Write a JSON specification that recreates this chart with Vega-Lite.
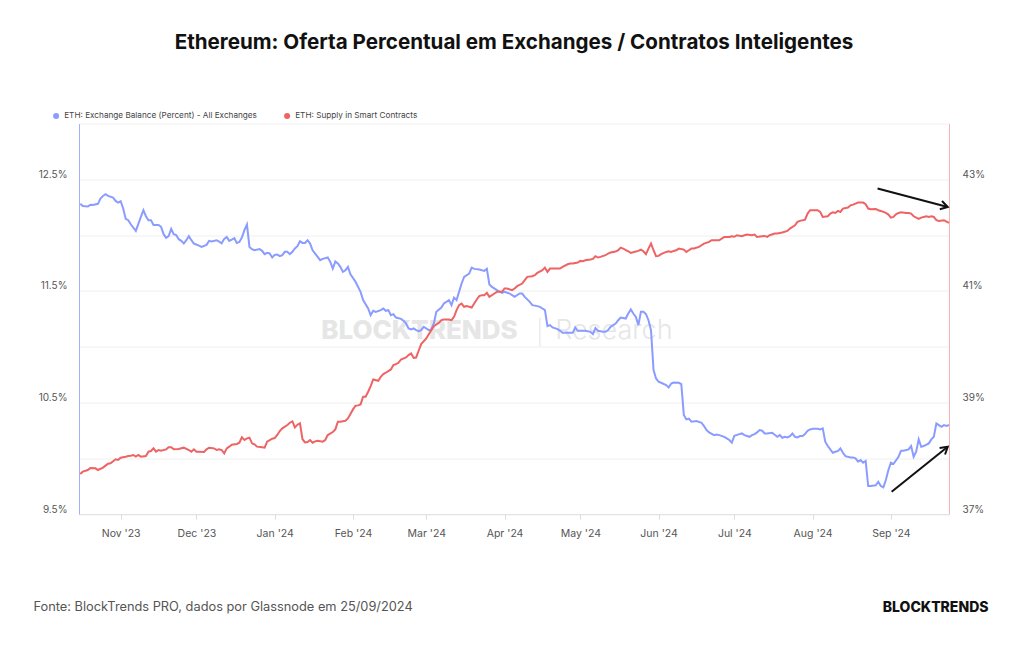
{
"$schema":"https://vega.github.io/schema/vega-lite/v6.json",
"width":870,"height":390.5,
"autosize":"none",
"padding":{"left":79,"top":123.5,"right":75,"bottom":131},
"background":"white",
"config":{"font":"Inter","view":{"stroke":null},"axis":{"labelFont":"Inter","titleFont":"Inter"},"legend":{"labelFont":"Inter"}},
"title":{"text":"Ethereum: Oferta Percentual em Exchanges / Contratos Inteligentes","font":"Inter","fontSize":20.6,"fontWeight":"bold","color":"#111111","anchor":"middle","baseline":"bottom","offset":38},
"datasets":{
"blue":[{"d":"2023-10-16","v":12.28},{"d":"2023-10-17","v":12.26},{"d":"2023-10-19","v":12.256},{"d":"2023-10-20","v":12.271},{"d":"2023-10-21","v":12.27},{"d":"2023-10-23","v":12.28},{"d":"2023-10-24","v":12.327},{"d":"2023-10-25","v":12.351},{"d":"2023-10-26","v":12.366},{"d":"2023-10-27","v":12.351},{"d":"2023-10-29","v":12.336},{"d":"2023-10-30","v":12.306},{"d":"2023-10-31","v":12.291},{"d":"2023-11-01","v":12.303},{"d":"2023-11-02","v":12.238},{"d":"2023-11-03","v":12.145},{"d":"2023-11-04","v":12.133},{"d":"2023-11-05","v":12.097},{"d":"2023-11-07","v":12.038},{"d":"2023-11-09","v":12.163},{"d":"2023-11-10","v":12.223},{"d":"2023-11-11","v":12.169},{"d":"2023-11-12","v":12.133},{"d":"2023-11-13","v":12.133},{"d":"2023-11-14","v":12.091},{"d":"2023-11-16","v":12.091},{"d":"2023-11-17","v":12.074},{"d":"2023-11-18","v":12.008},{"d":"2023-11-19","v":11.975},{"d":"2023-11-20","v":11.99},{"d":"2023-11-21","v":12.056},{"d":"2023-11-22","v":12.008},{"d":"2023-11-23","v":11.999},{"d":"2023-11-24","v":11.963},{"d":"2023-11-25","v":11.948},{"d":"2023-11-26","v":11.924},{"d":"2023-11-27","v":11.954},{"d":"2023-11-28","v":11.99},{"d":"2023-11-29","v":11.954},{"d":"2023-11-30","v":11.924},{"d":"2023-12-02","v":11.906},{"d":"2023-12-03","v":11.894},{"d":"2023-12-05","v":11.912},{"d":"2023-12-06","v":11.948},{"d":"2023-12-07","v":11.942},{"d":"2023-12-09","v":11.954},{"d":"2023-12-10","v":11.942},{"d":"2023-12-11","v":11.927},{"d":"2023-12-12","v":11.966},{"d":"2023-12-13","v":11.984},{"d":"2023-12-14","v":11.948},{"d":"2023-12-15","v":11.96},{"d":"2023-12-16","v":11.972},{"d":"2023-12-17","v":11.93},{"d":"2023-12-18","v":11.939},{"d":"2023-12-19","v":11.978},{"d":"2023-12-20","v":12.044},{"d":"2023-12-21","v":12.094},{"d":"2023-12-22","v":11.894},{"d":"2023-12-23","v":11.874},{"d":"2023-12-24","v":11.865},{"d":"2023-12-26","v":11.874},{"d":"2023-12-27","v":11.859},{"d":"2023-12-28","v":11.829},{"d":"2023-12-29","v":11.841},{"d":"2023-12-30","v":11.835},{"d":"2023-12-31","v":11.799},{"d":"2024-01-01","v":11.823},{"d":"2024-01-02","v":11.826},{"d":"2024-01-03","v":11.811},{"d":"2024-01-04","v":11.82},{"d":"2024-01-05","v":11.85},{"d":"2024-01-06","v":11.85},{"d":"2024-01-07","v":11.829},{"d":"2024-01-08","v":11.85},{"d":"2024-01-09","v":11.88},{"d":"2024-01-10","v":11.9},{"d":"2024-01-11","v":11.945},{"d":"2024-01-12","v":11.93},{"d":"2024-01-13","v":11.93},{"d":"2024-01-14","v":11.954},{"d":"2024-01-15","v":11.924},{"d":"2024-01-16","v":11.864},{"d":"2024-01-18","v":11.805},{"d":"2024-01-19","v":11.775},{"d":"2024-01-20","v":11.787},{"d":"2024-01-22","v":11.799},{"d":"2024-01-23","v":11.76},{"d":"2024-01-24","v":11.7},{"d":"2024-01-25","v":11.763},{"d":"2024-01-26","v":11.745},{"d":"2024-01-27","v":11.715},{"d":"2024-01-28","v":11.67},{"d":"2024-01-29","v":11.685},{"d":"2024-01-30","v":11.715},{"d":"2024-01-31","v":11.649},{"d":"2024-02-02","v":11.581},{"d":"2024-02-03","v":11.536},{"d":"2024-02-04","v":11.491},{"d":"2024-02-05","v":11.417},{"d":"2024-02-07","v":11.342},{"d":"2024-02-08","v":11.282},{"d":"2024-02-09","v":11.321},{"d":"2024-02-10","v":11.312},{"d":"2024-02-12","v":11.327},{"d":"2024-02-13","v":11.342},{"d":"2024-02-14","v":11.321},{"d":"2024-02-15","v":11.327},{"d":"2024-02-16","v":11.282},{"d":"2024-02-17","v":11.291},{"d":"2024-02-18","v":11.261},{"d":"2024-02-20","v":11.249},{"d":"2024-02-21","v":11.232},{"d":"2024-02-22","v":11.208},{"d":"2024-02-23","v":11.163},{"d":"2024-02-24","v":11.154},{"d":"2024-02-25","v":11.163},{"d":"2024-02-26","v":11.148},{"d":"2024-02-27","v":11.139},{"d":"2024-02-28","v":11.148},{"d":"2024-02-29","v":11.178},{"d":"2024-03-02","v":11.148},{"d":"2024-03-03","v":11.154},{"d":"2024-03-04","v":11.208},{"d":"2024-03-05","v":11.312},{"d":"2024-03-07","v":11.351},{"d":"2024-03-08","v":11.387},{"d":"2024-03-10","v":11.417},{"d":"2024-03-11","v":11.372},{"d":"2024-03-12","v":11.44},{"d":"2024-03-13","v":11.417},{"d":"2024-03-14","v":11.491},{"d":"2024-03-15","v":11.566},{"d":"2024-03-16","v":11.626},{"d":"2024-03-18","v":11.655},{"d":"2024-03-19","v":11.709},{"d":"2024-03-20","v":11.697},{"d":"2024-03-22","v":11.691},{"d":"2024-03-24","v":11.679},{"d":"2024-03-25","v":11.697},{"d":"2024-03-26","v":11.557},{"d":"2024-03-27","v":11.536},{"d":"2024-03-29","v":11.506},{"d":"2024-03-31","v":11.482},{"d":"2024-04-01","v":11.491},{"d":"2024-04-03","v":11.476},{"d":"2024-04-04","v":11.461},{"d":"2024-04-05","v":11.446},{"d":"2024-04-07","v":11.476},{"d":"2024-04-08","v":11.476},{"d":"2024-04-09","v":11.446},{"d":"2024-04-11","v":11.401},{"d":"2024-04-12","v":11.372},{"d":"2024-04-14","v":11.363},{"d":"2024-04-15","v":11.357},{"d":"2024-04-16","v":11.342},{"d":"2024-04-17","v":11.327},{"d":"2024-04-18","v":11.184},{"d":"2024-04-19","v":11.193},{"d":"2024-04-20","v":11.172},{"d":"2024-04-22","v":11.157},{"d":"2024-04-23","v":11.142},{"d":"2024-04-24","v":11.124},{"d":"2024-04-26","v":11.124},{"d":"2024-04-28","v":11.124},{"d":"2024-04-29","v":11.172},{"d":"2024-04-30","v":11.142},{"d":"2024-05-02","v":11.142},{"d":"2024-05-03","v":11.142},{"d":"2024-05-05","v":11.133},{"d":"2024-05-06","v":11.112},{"d":"2024-05-07","v":11.166},{"d":"2024-05-08","v":11.142},{"d":"2024-05-10","v":11.133},{"d":"2024-05-11","v":11.133},{"d":"2024-05-12","v":11.148},{"d":"2024-05-13","v":11.178},{"d":"2024-05-15","v":11.207},{"d":"2024-05-16","v":11.237},{"d":"2024-05-17","v":11.261},{"d":"2024-05-19","v":11.252},{"d":"2024-05-20","v":11.297},{"d":"2024-05-21","v":11.333},{"d":"2024-05-22","v":11.297},{"d":"2024-05-23","v":11.267},{"d":"2024-05-24","v":11.193},{"d":"2024-05-25","v":11.312},{"d":"2024-05-26","v":11.312},{"d":"2024-05-27","v":11.291},{"d":"2024-05-28","v":11.237},{"d":"2024-05-29","v":11.148},{"d":"2024-05-30","v":10.79},{"d":"2024-05-31","v":10.715},{"d":"2024-06-01","v":10.685},{"d":"2024-06-02","v":10.676},{"d":"2024-06-04","v":10.655},{"d":"2024-06-05","v":10.634},{"d":"2024-06-06","v":10.67},{"d":"2024-06-07","v":10.679},{"d":"2024-06-09","v":10.676},{"d":"2024-06-10","v":10.664},{"d":"2024-06-11","v":10.387},{"d":"2024-06-12","v":10.348},{"d":"2024-06-13","v":10.354},{"d":"2024-06-14","v":10.327},{"d":"2024-06-16","v":10.333},{"d":"2024-06-18","v":10.318},{"d":"2024-06-19","v":10.288},{"d":"2024-06-20","v":10.252},{"d":"2024-06-21","v":10.231},{"d":"2024-06-23","v":10.207},{"d":"2024-06-24","v":10.213},{"d":"2024-06-25","v":10.207},{"d":"2024-06-27","v":10.192},{"d":"2024-06-28","v":10.178},{"d":"2024-06-29","v":10.163},{"d":"2024-06-30","v":10.139},{"d":"2024-07-01","v":10.2},{"d":"2024-07-03","v":10.216},{"d":"2024-07-04","v":10.222},{"d":"2024-07-05","v":10.207},{"d":"2024-07-07","v":10.192},{"d":"2024-07-08","v":10.207},{"d":"2024-07-09","v":10.216},{"d":"2024-07-10","v":10.231},{"d":"2024-07-11","v":10.252},{"d":"2024-07-12","v":10.246},{"d":"2024-07-13","v":10.222},{"d":"2024-07-14","v":10.222},{"d":"2024-07-16","v":10.228},{"d":"2024-07-17","v":10.21},{"d":"2024-07-18","v":10.192},{"d":"2024-07-19","v":10.207},{"d":"2024-07-20","v":10.183},{"d":"2024-07-21","v":10.192},{"d":"2024-07-22","v":10.186},{"d":"2024-07-23","v":10.198},{"d":"2024-07-24","v":10.222},{"d":"2024-07-25","v":10.192},{"d":"2024-07-26","v":10.186},{"d":"2024-07-27","v":10.198},{"d":"2024-07-28","v":10.198},{"d":"2024-07-29","v":10.216},{"d":"2024-07-30","v":10.246},{"d":"2024-07-31","v":10.258},{"d":"2024-08-01","v":10.264},{"d":"2024-08-03","v":10.264},{"d":"2024-08-04","v":10.258},{"d":"2024-08-05","v":10.267},{"d":"2024-08-06","v":10.148},{"d":"2024-08-07","v":10.109},{"d":"2024-08-08","v":10.079},{"d":"2024-08-09","v":10.049},{"d":"2024-08-10","v":10.058},{"d":"2024-08-11","v":10.064},{"d":"2024-08-12","v":10.088},{"d":"2024-08-13","v":10.049},{"d":"2024-08-14","v":10.019},{"d":"2024-08-16","v":10.007},{"d":"2024-08-17","v":10.007},{"d":"2024-08-18","v":9.998},{"d":"2024-08-19","v":9.969},{"d":"2024-08-20","v":9.984},{"d":"2024-08-21","v":9.96},{"d":"2024-08-22","v":9.975},{"d":"2024-08-23","v":9.751},{"d":"2024-08-24","v":9.751},{"d":"2024-08-26","v":9.757},{"d":"2024-08-27","v":9.789},{"d":"2024-08-28","v":9.751},{"d":"2024-08-29","v":9.739},{"d":"2024-08-30","v":9.804},{"d":"2024-08-31","v":9.894},{"d":"2024-09-01","v":9.96},{"d":"2024-09-02","v":9.948},{"d":"2024-09-04","v":10.013},{"d":"2024-09-05","v":10.067},{"d":"2024-09-06","v":10.067},{"d":"2024-09-08","v":10.079},{"d":"2024-09-09","v":10.109},{"d":"2024-09-10","v":10.013},{"d":"2024-09-11","v":10.058},{"d":"2024-09-12","v":10.17},{"d":"2024-09-13","v":10.103},{"d":"2024-09-14","v":10.109},{"d":"2024-09-16","v":10.133},{"d":"2024-09-17","v":10.169},{"d":"2024-09-18","v":10.192},{"d":"2024-09-19","v":10.312},{"d":"2024-09-20","v":10.297},{"d":"2024-09-21","v":10.282},{"d":"2024-09-22","v":10.297},{"d":"2024-09-23","v":10.29},{"d":"2024-09-24","v":10.297}],
"red":[{"d":"2023-10-16","v":37.717},{"d":"2023-10-17","v":37.759},{"d":"2023-10-19","v":37.789},{"d":"2023-10-20","v":37.825},{"d":"2023-10-22","v":37.819},{"d":"2023-10-23","v":37.789},{"d":"2023-10-25","v":37.831},{"d":"2023-10-26","v":37.867},{"d":"2023-10-27","v":37.902},{"d":"2023-10-28","v":37.908},{"d":"2023-10-30","v":37.98},{"d":"2023-10-31","v":37.968},{"d":"2023-11-01","v":38.01},{"d":"2023-11-03","v":38.028},{"d":"2023-11-04","v":38.04},{"d":"2023-11-05","v":38.046},{"d":"2023-11-06","v":38.058},{"d":"2023-11-07","v":38.028},{"d":"2023-11-08","v":38.058},{"d":"2023-11-09","v":38.028},{"d":"2023-11-11","v":38.04},{"d":"2023-11-12","v":38.117},{"d":"2023-11-13","v":38.129},{"d":"2023-11-14","v":38.177},{"d":"2023-11-15","v":38.117},{"d":"2023-11-16","v":38.147},{"d":"2023-11-17","v":38.135},{"d":"2023-11-19","v":38.159},{"d":"2023-11-20","v":38.195},{"d":"2023-11-21","v":38.195},{"d":"2023-11-22","v":38.159},{"d":"2023-11-24","v":38.165},{"d":"2023-11-25","v":38.177},{"d":"2023-11-26","v":38.189},{"d":"2023-11-28","v":38.147},{"d":"2023-11-29","v":38.117},{"d":"2023-11-30","v":38.159},{"d":"2023-12-01","v":38.117},{"d":"2023-12-02","v":38.117},{"d":"2023-12-04","v":38.111},{"d":"2023-12-05","v":38.159},{"d":"2023-12-06","v":38.189},{"d":"2023-12-08","v":38.177},{"d":"2023-12-09","v":38.147},{"d":"2023-12-10","v":38.159},{"d":"2023-12-11","v":38.147},{"d":"2023-12-12","v":38.087},{"d":"2023-12-13","v":38.177},{"d":"2023-12-14","v":38.207},{"d":"2023-12-15","v":38.243},{"d":"2023-12-17","v":38.255},{"d":"2023-12-18","v":38.279},{"d":"2023-12-19","v":38.374},{"d":"2023-12-20","v":38.326},{"d":"2023-12-21","v":38.356},{"d":"2023-12-22","v":38.368},{"d":"2023-12-23","v":38.267},{"d":"2023-12-24","v":38.249},{"d":"2023-12-25","v":38.207},{"d":"2023-12-27","v":38.195},{"d":"2023-12-28","v":38.189},{"d":"2023-12-29","v":38.296},{"d":"2023-12-31","v":38.35},{"d":"2024-01-01","v":38.362},{"d":"2024-01-02","v":38.416},{"d":"2024-01-03","v":38.487},{"d":"2024-01-04","v":38.535},{"d":"2024-01-06","v":38.595},{"d":"2024-01-07","v":38.636},{"d":"2024-01-08","v":38.66},{"d":"2024-01-09","v":38.553},{"d":"2024-01-10","v":38.601},{"d":"2024-01-11","v":38.625},{"d":"2024-01-12","v":38.34},{"d":"2024-01-13","v":38.284},{"d":"2024-01-14","v":38.29},{"d":"2024-01-15","v":38.326},{"d":"2024-01-16","v":38.278},{"d":"2024-01-17","v":38.302},{"d":"2024-01-18","v":38.314},{"d":"2024-01-20","v":38.296},{"d":"2024-01-21","v":38.326},{"d":"2024-01-22","v":38.415},{"d":"2024-01-24","v":38.469},{"d":"2024-01-25","v":38.517},{"d":"2024-01-26","v":38.654},{"d":"2024-01-27","v":38.654},{"d":"2024-01-29","v":38.672},{"d":"2024-01-30","v":38.714},{"d":"2024-02-01","v":38.875},{"d":"2024-02-02","v":38.941},{"d":"2024-02-03","v":38.947},{"d":"2024-02-04","v":38.965},{"d":"2024-02-05","v":39.102},{"d":"2024-02-06","v":39.102},{"d":"2024-02-07","v":39.191},{"d":"2024-02-08","v":39.293},{"d":"2024-02-09","v":39.412},{"d":"2024-02-11","v":39.388},{"d":"2024-02-12","v":39.46},{"d":"2024-02-13","v":39.508},{"d":"2024-02-14","v":39.532},{"d":"2024-02-16","v":39.591},{"d":"2024-02-17","v":39.669},{"d":"2024-02-18","v":39.687},{"d":"2024-02-19","v":39.711},{"d":"2024-02-20","v":39.77},{"d":"2024-02-22","v":39.806},{"d":"2024-02-23","v":39.848},{"d":"2024-02-24","v":39.878},{"d":"2024-02-25","v":39.8},{"d":"2024-02-26","v":39.806},{"d":"2024-02-27","v":39.926},{"d":"2024-02-28","v":40.045},{"d":"2024-03-01","v":40.146},{"d":"2024-03-02","v":40.224},{"d":"2024-03-03","v":40.296},{"d":"2024-03-04","v":40.367},{"d":"2024-03-06","v":40.427},{"d":"2024-03-07","v":40.475},{"d":"2024-03-08","v":40.487},{"d":"2024-03-10","v":40.487},{"d":"2024-03-11","v":40.475},{"d":"2024-03-12","v":40.535},{"d":"2024-03-13","v":40.654},{"d":"2024-03-14","v":40.744},{"d":"2024-03-15","v":40.773},{"d":"2024-03-16","v":40.714},{"d":"2024-03-17","v":40.726},{"d":"2024-03-19","v":40.702},{"d":"2024-03-20","v":40.773},{"d":"2024-03-21","v":40.845},{"d":"2024-03-22","v":40.905},{"d":"2024-03-23","v":40.923},{"d":"2024-03-24","v":40.923},{"d":"2024-03-25","v":40.964},{"d":"2024-03-26","v":40.893},{"d":"2024-03-28","v":40.953},{"d":"2024-03-29","v":40.982},{"d":"2024-03-31","v":40.982},{"d":"2024-04-01","v":41.042},{"d":"2024-04-02","v":41.042},{"d":"2024-04-04","v":41.012},{"d":"2024-04-05","v":41.042},{"d":"2024-04-06","v":41.084},{"d":"2024-04-08","v":41.131},{"d":"2024-04-09","v":41.191},{"d":"2024-04-10","v":41.251},{"d":"2024-04-12","v":41.263},{"d":"2024-04-13","v":41.281},{"d":"2024-04-14","v":41.322},{"d":"2024-04-16","v":41.37},{"d":"2024-04-17","v":41.418},{"d":"2024-04-18","v":41.34},{"d":"2024-04-19","v":41.4},{"d":"2024-04-20","v":41.4},{"d":"2024-04-22","v":41.4},{"d":"2024-04-23","v":41.4},{"d":"2024-04-24","v":41.43},{"d":"2024-04-26","v":41.477},{"d":"2024-04-27","v":41.489},{"d":"2024-04-28","v":41.489},{"d":"2024-04-30","v":41.507},{"d":"2024-05-01","v":41.537},{"d":"2024-05-02","v":41.531},{"d":"2024-05-03","v":41.549},{"d":"2024-05-05","v":41.561},{"d":"2024-05-06","v":41.573},{"d":"2024-05-07","v":41.621},{"d":"2024-05-08","v":41.597},{"d":"2024-05-09","v":41.609},{"d":"2024-05-11","v":41.639},{"d":"2024-05-12","v":41.669},{"d":"2024-05-13","v":41.687},{"d":"2024-05-15","v":41.704},{"d":"2024-05-16","v":41.728},{"d":"2024-05-17","v":41.776},{"d":"2024-05-18","v":41.758},{"d":"2024-05-20","v":41.71},{"d":"2024-05-21","v":41.681},{"d":"2024-05-23","v":41.704},{"d":"2024-05-24","v":41.716},{"d":"2024-05-25","v":41.74},{"d":"2024-05-26","v":41.71},{"d":"2024-05-27","v":41.657},{"d":"2024-05-28","v":41.758},{"d":"2024-05-29","v":41.848},{"d":"2024-05-30","v":41.728},{"d":"2024-05-31","v":41.621},{"d":"2024-06-01","v":41.627},{"d":"2024-06-02","v":41.657},{"d":"2024-06-04","v":41.698},{"d":"2024-06-05","v":41.71},{"d":"2024-06-06","v":41.698},{"d":"2024-06-07","v":41.716},{"d":"2024-06-08","v":41.728},{"d":"2024-06-09","v":41.758},{"d":"2024-06-11","v":41.74},{"d":"2024-06-12","v":41.698},{"d":"2024-06-13","v":41.728},{"d":"2024-06-14","v":41.758},{"d":"2024-06-15","v":41.758},{"d":"2024-06-17","v":41.788},{"d":"2024-06-18","v":41.818},{"d":"2024-06-19","v":41.848},{"d":"2024-06-21","v":41.878},{"d":"2024-06-22","v":41.907},{"d":"2024-06-23","v":41.907},{"d":"2024-06-25","v":41.907},{"d":"2024-06-26","v":41.937},{"d":"2024-06-27","v":41.967},{"d":"2024-06-29","v":41.967},{"d":"2024-06-30","v":41.979},{"d":"2024-07-01","v":41.97},{"d":"2024-07-02","v":41.997},{"d":"2024-07-04","v":41.979},{"d":"2024-07-05","v":41.997},{"d":"2024-07-06","v":42.009},{"d":"2024-07-08","v":41.997},{"d":"2024-07-09","v":42.009},{"d":"2024-07-10","v":41.967},{"d":"2024-07-12","v":41.979},{"d":"2024-07-13","v":41.985},{"d":"2024-07-14","v":41.967},{"d":"2024-07-15","v":41.997},{"d":"2024-07-17","v":42.027},{"d":"2024-07-18","v":42.027},{"d":"2024-07-20","v":42.045},{"d":"2024-07-22","v":42.075},{"d":"2024-07-23","v":42.116},{"d":"2024-07-25","v":42.176},{"d":"2024-07-26","v":42.236},{"d":"2024-07-27","v":42.254},{"d":"2024-07-29","v":42.277},{"d":"2024-07-30","v":42.385},{"d":"2024-07-31","v":42.445},{"d":"2024-08-01","v":42.445},{"d":"2024-08-03","v":42.445},{"d":"2024-08-04","v":42.415},{"d":"2024-08-05","v":42.325},{"d":"2024-08-07","v":42.337},{"d":"2024-08-08","v":42.385},{"d":"2024-08-09","v":42.409},{"d":"2024-08-10","v":42.397},{"d":"2024-08-11","v":42.433},{"d":"2024-08-12","v":42.415},{"d":"2024-08-13","v":42.475},{"d":"2024-08-15","v":42.493},{"d":"2024-08-16","v":42.534},{"d":"2024-08-17","v":42.546},{"d":"2024-08-18","v":42.564},{"d":"2024-08-19","v":42.582},{"d":"2024-08-21","v":42.582},{"d":"2024-08-22","v":42.552},{"d":"2024-08-23","v":42.475},{"d":"2024-08-24","v":42.463},{"d":"2024-08-26","v":42.469},{"d":"2024-08-27","v":42.445},{"d":"2024-08-28","v":42.433},{"d":"2024-08-30","v":42.397},{"d":"2024-08-31","v":42.367},{"d":"2024-09-01","v":42.313},{"d":"2024-09-02","v":42.325},{"d":"2024-09-03","v":42.373},{"d":"2024-09-04","v":42.397},{"d":"2024-09-05","v":42.409},{"d":"2024-09-07","v":42.397},{"d":"2024-09-08","v":42.397},{"d":"2024-09-09","v":42.385},{"d":"2024-09-10","v":42.337},{"d":"2024-09-12","v":42.29},{"d":"2024-09-13","v":42.313},{"d":"2024-09-14","v":42.325},{"d":"2024-09-15","v":42.337},{"d":"2024-09-16","v":42.325},{"d":"2024-09-17","v":42.337},{"d":"2024-09-18","v":42.325},{"d":"2024-09-19","v":42.266},{"d":"2024-09-20","v":42.254},{"d":"2024-09-22","v":42.266},{"d":"2024-09-23","v":42.242},{"d":"2024-09-24","v":42.218}]
},
"encoding":{"x":{"field":"d","type":"temporal","scale":{"type":"utc","domain":[1697371200000,1727136000000],"nice":false},
  "axis":{"format":"%b '%y","tickCount":{"interval":"month","step":1},"grid":false,"domainColor":"#e3e3e3","tickColor":"#dddddd","tickSize":5,"labelColor":"#555555","labelFontSize":10.5,"labelPadding":9,"labelFlush":false,"labelOverlap":false,
  "title":"Fonte: BlockTrends PRO, dados por Glassnode em 25/09/2024","titleFontWeight":"normal","titleFontSize":12.8,"titleColor":"#555555","titleAnchor":"start","titleAlign":"left","titleX":-46,"titleY":92,"titleBaseline":"middle"}}},
"layer":[
 {"encoding":{"y":{"field":"v","type":"quantitative","scale":{"domain":[9.5,13],"nice":false,"zero":false},
   "axis":{"title":null,"values":[9.5,10,10.5,11,11.5,12,12.5,13],"labelExpr":"datum.value % 1 == 0.5 ? format(datum.value, '.1f') + '%' : ''","grid":true,"gridColor":"#efefef","ticks":false,"domainColor":"#a3afff","labelColor":"#555555","labelFontSize":10,"labelPadding":12,"labelBaseline":"alphabetic","labelOffset":-2}}},
  "layer":[
   {"data":{"values":[{"d":"2024-02-27T07:00:00Z","v":11.14,"t":"BLOCKTRENDS"}]},"mark":{"type":"text","fontSize":26,"fontWeight":800,"color":"#e6e6e6","align":"center","baseline":"middle"},"encoding":{"text":{"field":"t"}}},
   {"data":{"values":[{"d":"2024-05-14T07:00:00Z","v":11.14,"t":"Research"}]},"mark":{"type":"text","fontSize":27,"fontWeight":300,"color":"#e6e6e6","align":"center","baseline":"middle"},"encoding":{"text":{"field":"t"}}},
   {"data":{"values":[{"d":"2024-04-15T00:00:00Z","v":11.0,"v2":11.26}]},"mark":{"type":"rule","color":"#e2e2e2","strokeWidth":1},"encoding":{"y2":{"field":"v2"}}},
   {"data":{"name":"blue"},"mark":{"type":"line","strokeWidth":2},"encoding":{"color":{"datum":"ETH: Exchange Balance (Percent) - All Exchanges","type":"nominal","scale":{"domain":["ETH: Exchange Balance (Percent) - All Exchanges","ETH: Supply in Smart Contracts"],"range":["#8a9cff","#ee6363"]},
     "legend":{"orient":"none","legendX":-27,"legendY":-12,"direction":"horizontal","title":null,"symbolType":"circle","symbolSize":36,"symbolStrokeWidth":0,"labelFontSize":8.2,"labelColor":"#444444","labelOffset":4,"labelLimit":400,"columnPadding":26,"encode":{"symbols":{"update":{"fill":{"scale":"color","field":"value"},"fillOpacity":{"value":1}}}}}}}},
   {"data":{"values":[{"d":"2024-09-01T07:00:00Z","v":9.70,"d2":"2024-09-23T12:00:00Z","v2":10.103}]},"mark":{"type":"rule","color":"#111111","strokeWidth":2},"encoding":{"x2":{"field":"d2"},"y2":{"field":"v2"}}},
   {"data":{"values":[{"d":"2024-09-23T12:00:00Z","v":10.103}]},"mark":{"type":"point","shape":"M-1,-0.6L0,0L-1,0.6","size":200,"filled":false,"color":"#111111","strokeWidth":2,"angle":320,"opacity":1}}
  ]},
 {"encoding":{"y":{"field":"v","type":"quantitative","scale":{"domain":[37,44],"nice":false,"zero":false},
   "axis":{"orient":"right","values":[37,39,41,43],"labelExpr":"datum.value + '%'","grid":false,"ticks":false,"domainColor":"#f5b5b5","labelColor":"#555555","labelFontSize":10,"labelPadding":13,"labelBaseline":"alphabetic","labelOffset":-2,
   "title":"BLOCKTRENDS","titleAngle":0,"titleX":39,"titleY":483.5,"titleAlign":"right","titleBaseline":"middle","titleFontSize":14,"titleFontWeight":800,"titleColor":"#111111"}}},
  "layer":[
   {"data":{"name":"red"},"mark":{"type":"line","strokeWidth":2},"encoding":{"color":{"datum":"ETH: Supply in Smart Contracts","type":"nominal"}}},
   {"data":{"values":[{"d":"2024-08-26T17:00:00Z","v":42.834,"d2":"2024-09-23T12:00:00Z","v2":42.504}]},"mark":{"type":"rule","color":"#111111","strokeWidth":2},"encoding":{"x2":{"field":"d2"},"y2":{"field":"v2"}}},
   {"data":{"values":[{"d":"2024-09-23T12:00:00Z","v":42.504}]},"mark":{"type":"point","shape":"M-1,-0.6L0,0L-1,0.6","size":200,"filled":false,"color":"#111111","strokeWidth":2,"angle":15,"opacity":1}}
  ]}
],
"resolve":{"scale":{"y":"independent"}}
}
